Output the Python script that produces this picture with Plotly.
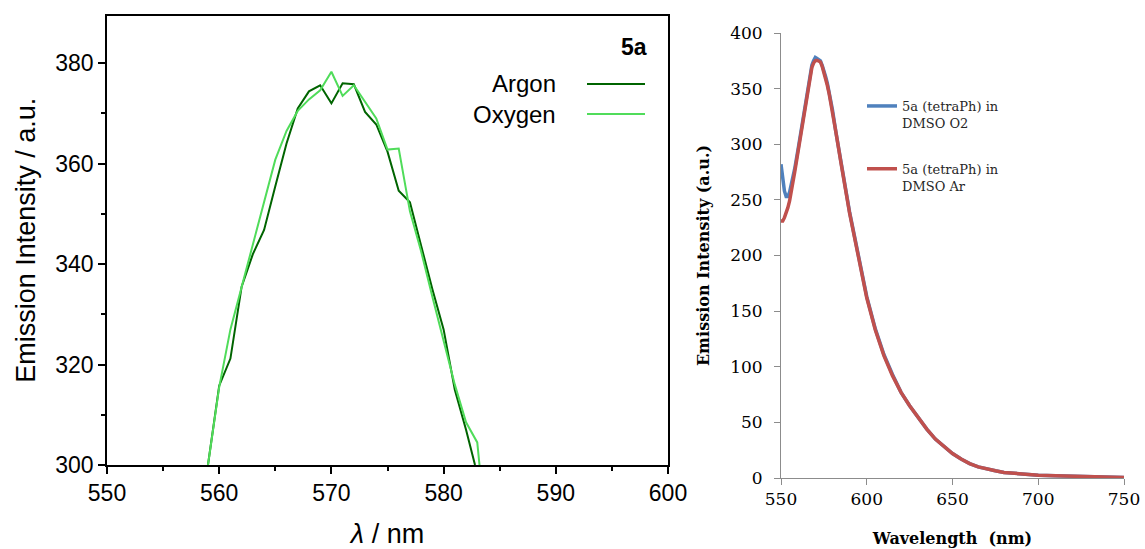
import plotly.graph_objects as go

W, H = 1145, 549

# ---- left panel data (5a, Argon vs Oxygen) ----
x_argon = [559, 560, 561, 562, 563, 564, 565, 566, 567, 568, 569, 570, 571, 572, 573,
           574, 575, 576, 577, 578, 579, 580, 581, 582, 582.8]
y_argon = [300, 315.8, 321.2, 335.5, 342, 346.8, 355.5, 364, 371, 374.4, 375.6, 372, 376,
           375.8, 370.3, 367.8, 362.4, 354.6, 352.3, 343.5, 335, 327, 315, 307, 300]
x_oxygen = [559, 560, 561, 562, 563, 564, 565, 566, 567, 568, 569, 570, 571, 572, 573,
            574, 575, 576, 577, 578, 579, 580, 581, 582, 583, 583.2]
y_oxygen = [300, 315.5, 327, 335.5, 343.5, 352, 360.8, 366.5, 370.5, 372.8, 374.6, 378.3,
            373.5, 375.6, 372.3, 369, 362.8, 363, 350.5, 342.5, 333.5, 324.8, 316, 308.5,
            304.5, 300]

# ---- right panel data (5a tetraPh in DMSO) ----
x_dmso = [550, 551, 552, 553, 554, 555, 556, 558, 560, 562, 564, 565, 566, 567, 568, 569,
          570, 571, 572, 573, 574, 575, 576, 577, 578, 580, 582, 585, 590, 595, 600, 605,
          610, 615, 620, 625, 630, 635, 640, 645, 650, 655, 660, 665, 670, 675, 680, 690,
          700, 710, 720, 730, 740, 750]
y_o2 = [282, 267, 258, 253, 253, 257, 263, 278, 296, 315, 333, 343, 354, 364, 371, 375,
        378, 377, 376, 375, 371, 367, 361, 355, 348, 331, 311, 284, 239, 201, 163, 134,
        111, 93, 77, 65, 54, 44, 35, 28, 22, 17, 13, 10, 8, 6.5, 5, 3.5,
        2.5, 2, 1.5, 1, 0.7, 0.5]
y_ar = [231, 231, 234, 238, 243, 249, 257, 275, 294, 313, 331, 341, 352, 362, 369, 373,
        375, 375.5, 375, 374, 370, 365, 359, 353, 346, 330, 311, 283, 238, 200, 162, 133,
        110, 92, 77, 65, 54, 44, 35, 28, 22, 17, 13, 10, 8, 6.5, 5, 3.5,
        2.5, 2, 1.5, 1, 0.7, 0.5]

ARGON_C = "#006400"
OXY_C = "#50DC5A"
BLUE_C = "#4F81BD"
RED_C = "#C0504D"

fig = go.Figure()
fig.add_trace(go.Scatter(x=x_argon, y=y_argon, mode="lines", name="Argon",
                         line=dict(color=ARGON_C, width=2), xaxis="x", yaxis="y",
                         showlegend=False))
fig.add_trace(go.Scatter(x=x_oxygen, y=y_oxygen, mode="lines", name="Oxygen",
                         line=dict(color=OXY_C, width=2), xaxis="x", yaxis="y",
                         showlegend=False))
fig.add_trace(go.Scatter(x=x_dmso, y=y_o2, mode="lines", name="5a (tetraPh) in<br>DMSO O2",
                         line=dict(color=BLUE_C, width=3.5), xaxis="x2", yaxis="y2",
                         legendgroup="o2"))
fig.add_trace(go.Scatter(x=x_dmso, y=y_ar, mode="lines", name="5a (tetraPh) in<br>DMSO Ar",
                         line=dict(color=RED_C, width=3.5), xaxis="x2", yaxis="y2",
                         legendgroup="ar"))

def px(x):
    return x / W

def py(y):
    return 1 - y / H

arial = "Liberation Sans, Arial, sans-serif"
serif = "DejaVu Serif, serif"

fig.update_layout(
    template="none",
    width=W, height=H, autosize=False,
    margin=dict(l=0, r=0, t=0, b=0, pad=0),
    paper_bgcolor="white", plot_bgcolor="white",
    xaxis=dict(domain=[px(107), px(668)], range=[550, 600], dtick=10, tick0=550,
               automargin=False,
               showline=True, linecolor="black", linewidth=1.5, mirror=True,
               ticks="outside", ticklen=7, tickwidth=1.5, tickcolor="black",
               minor=dict(dtick=5, ticks="outside", ticklen=4, tickwidth=1.5, tickcolor="black"),
               showgrid=False, zeroline=False,
               tickfont=dict(family=arial, size=23, color="black"),
               title=dict(text="<i>λ</i> / nm", font=dict(family=arial, size=27, color="black"),
                          standoff=20),
               anchor="y"),
    yaxis=dict(domain=[py(465), py(15.5)], range=[300, 389.5], dtick=20, tick0=300,
               automargin=False,
               showline=True, linecolor="black", linewidth=1.5, mirror=True,
               ticks="outside", ticklen=7, tickwidth=1.5, tickcolor="black",
               minor=dict(dtick=10, ticks="outside", ticklen=4, tickwidth=1.5, tickcolor="black"),
               showgrid=False, zeroline=False,
               tickfont=dict(family=arial, size=23, color="black"),
               title=dict(text="Emission Intensity / a.u.", font=dict(family=arial, size=27, color="black"),
                          standoff=12),
               anchor="x"),
    xaxis2=dict(domain=[px(781), px(1124)], range=[550, 750], dtick=50, tick0=550,
                automargin=False,
                showline=True, linecolor="#8C8C8C", linewidth=1,
                ticks="outside", ticklen=6, tickwidth=1, tickcolor="#8C8C8C",
                showgrid=False, zeroline=False,
                tickfont=dict(family=serif, size=17, color="black"),
                title=dict(text="<b>Wavelength  (nm)</b>", font=dict(family=serif, size=16, color="black"),
                           standoff=24),
                anchor="y2"),
    yaxis2=dict(domain=[py(478), py(33)], range=[0, 400], dtick=50, tick0=0,
                automargin=False,
                showline=True, linecolor="#8C8C8C", linewidth=1,
                ticks="outside", ticklen=6, tickwidth=1, tickcolor="#8C8C8C",
                ticklabelstandoff=8,
                showgrid=False, zeroline=False,
                tickfont=dict(family=serif, size=17, color="black"),
                title=dict(text="<b>Emission Intensity (a.u.)</b>", font=dict(family=serif, size=16, color="black"),
                           standoff=16),
                anchor="x2"),
    legend=dict(x=px(862), y=py(91), xanchor="left", yanchor="top",
                font=dict(family=serif, size=13, color="#262626"),
                bgcolor="rgba(0,0,0,0)", borderwidth=0,
                traceorder="grouped", tracegroupgap=26, valign="top",
                itemwidth=30),
    showlegend=True,
)

# left panel legend (text to the left of the line sample)
fig.add_annotation(x=px(649), y=py(47), xref="paper", yref="paper", text="<b>5a</b>",
                   showarrow=False, xanchor="right", yanchor="middle",
                   font=dict(family=arial, size=23, color="black"))
for label, ypos, col in [("Argon", 84, ARGON_C), ("Oxygen", 114, OXY_C)]:
    fig.add_annotation(x=px(558), y=py(ypos), xref="paper", yref="paper", text=label,
                       showarrow=False, xanchor="right", yanchor="middle",
                       font=dict(family=arial, size=24, color="black"))
    fig.add_shape(type="line", xref="paper", yref="paper",
                  x0=px(587), x1=px(645), y0=py(ypos), y1=py(ypos),
                  line=dict(color=col, width=2))

fig.write_html("out.html")
